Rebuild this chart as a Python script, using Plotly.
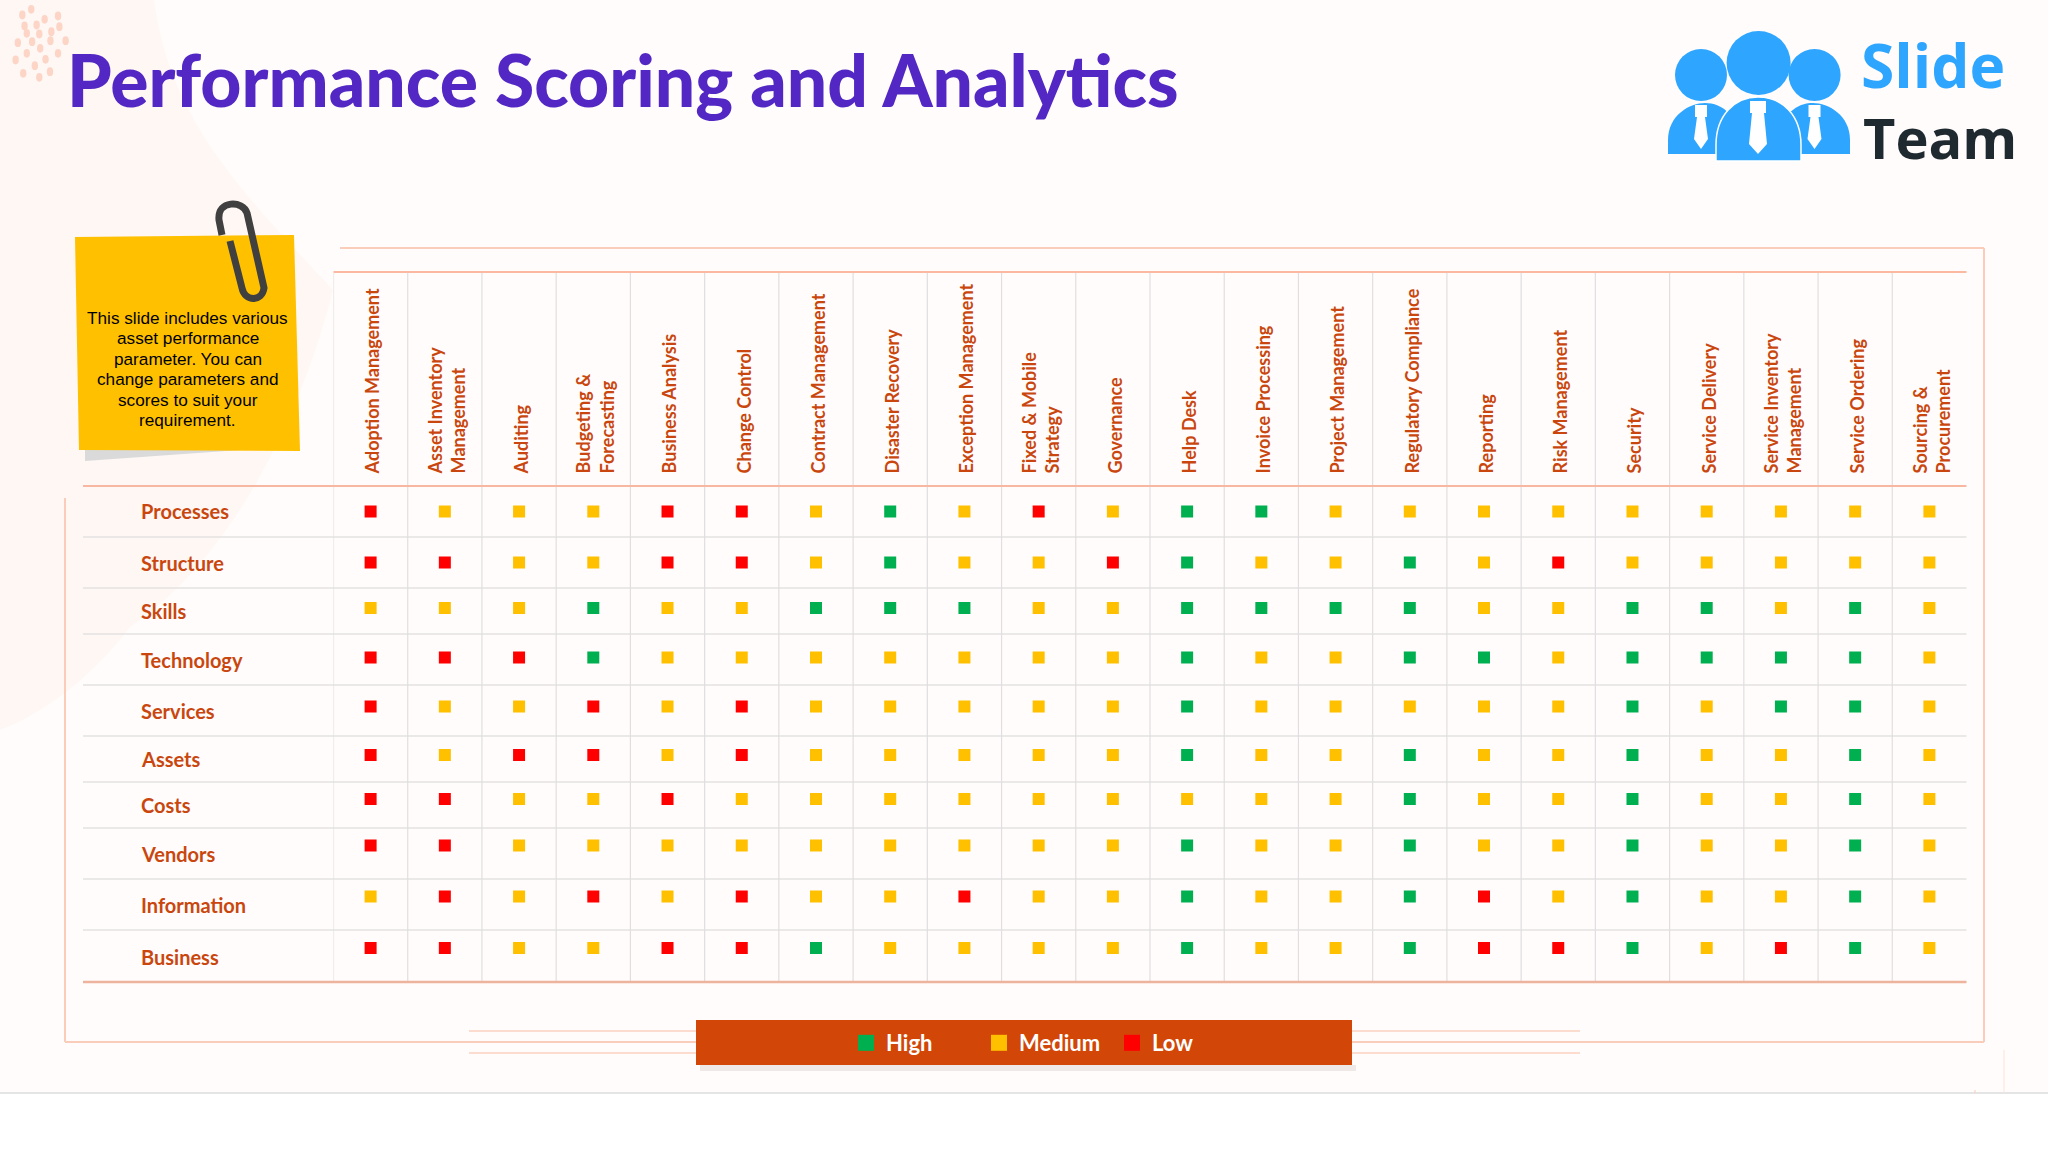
import re
import numpy as np
import plotly.graph_objects as go

# ---------- data ----------
COLUMNS = ["Adoption Management", "Asset Inventory<br>Management", "Auditing", "Budgeting &<br>Forecasting",
           "Business Analysis", "Change Control", "Contract Management", "Disaster Recovery",
           "Exception Management", "Fixed & Mobile<br>Strategy", "Governance", "Help Desk",
           "Invoice Processing", "Project Management", "Regulatory Compliance", "Reporting",
           "Risk Management", "Security", "Service Delivery", "Service Inventory<br>Management",
           "Service Ordering", "Sourcing &<br>Procurement"]
ROWS = ["Processes", "Structure", "Skills", "Technology", "Services",
        "Assets", "Costs", "Vendors", "Information", "Business"]
PROCESSES   = list("LMMMLLMHMLMHHMMMMMMMMM")
STRUCTURE   = list("LLMMLLMHMMLHMMHMLMMMMM")
SKILLS      = list("MMMHMMHHHMMHHHHMMHHMHM")
TECHNOLOGY  = list("LLLHMMMMMMMHMMHHMHHHHM")
SERVICES    = list("LMMLMLMMMMMHMMMMMHMHHM")
ASSETS      = list("LMLLMLMMMMMHMMHMMHMMHM")
COSTS       = list("LLMMLMMMMMMMMMHMMHMMHM")
VENDORS     = list("LLMMMMMMMMMHMMHMMHMMHM")
INFORMATION = list("MLMLMLMMLMMHMMHLMHMMHM")
BUSINESS    = list("LLMMLLHMMMMHMMHLLHMLHM")
SCORES = [PROCESSES, STRUCTURE, SKILLS, TECHNOLOGY, SERVICES, ASSETS, COSTS, VENDORS, INFORMATION, BUSINESS]
LEVELS = {"H": "High", "M": "Medium", "L": "Low"}

# ---------- table geometry (rows are not equal in height on the slide) ----------
ROW_HEIGHTS = [51, 51, 46, 51, 51, 46, 46, 51, 51, 52]
MARK_SHIFT = [0, 0, -3, -2, -4, -4, -6, -8, -8, -8]
LABEL_SHIFT = [-1, 0, -0.5, 0, 0, 0, 0, 0, 0, 0.5]
edges = np.concatenate([[0], np.cumsum(ROW_HEIGHTS)])
centres = (edges[:-1] + edges[1:]) / 2
mark_pos = centres + np.array(MARK_SHIFT)

W, H = 2048, 1152
TABLE_L, TABLE_R, TABLE_T, TABLE_B = 333.5, 1966.5, 486, 982
COLORS = {"H": "#00B050", "M": "#FFC000", "L": "#FF0000"}
ORANGE = "#C9470F"
X = lambda p: p / W
Y = lambda p: 1 - p / H


def P(s):
    """Turn a path written in slide pixels into paper coordinates."""
    out, i = [], 0
    for tok in s.split():
        if re.fullmatch(r"[A-Za-z]", tok):
            out.append(tok)
        else:
            v = float(tok)
            out.append(f"{X(v) if i % 2 == 0 else Y(v):.5f}")
            i += 1
    return " ".join(out)


def shape_path(s, fill="rgba(0,0,0,0)", line=None, width=0, layer="below"):
    return dict(type="path", path=P(s), xref="paper", yref="paper", fillcolor=fill,
                line=dict(color=line or "rgba(0,0,0,0)", width=width), layer=layer)


def rect(x0, y0, x1, y1, fill, layer="below"):
    return dict(type="rect", xref="paper", yref="paper", x0=X(x0), x1=X(x1), y0=Y(y0), y1=Y(y1),
                fillcolor=fill, line=dict(width=0), layer=layer)


def seg(x0, y0, x1, y1, color, width, layer="below"):
    return dict(type="line", xref="paper", yref="paper", x0=X(x0), x1=X(x1), y0=Y(y0), y1=Y(y1),
                line=dict(color=color, width=width), layer=layer)


def circ(cx, cy, rx, ry, fill, layer="below"):
    return dict(type="circle", xref="paper", yref="paper", x0=X(cx - rx), x1=X(cx + rx), y0=Y(cy + ry), y1=Y(cy - ry),
                fillcolor=fill, line=dict(width=0), layer=layer)


fig = go.Figure()

# score marks, one trace for each level
for code, name in LEVELS.items():
    xs, ys = [], []
    for r, row in enumerate(SCORES):
        for c, v in enumerate(row):
            if v == code:
                xs.append(COLUMNS[c])
                ys.append(mark_pos[r])
    fig.add_trace(go.Scatter(x=xs, y=ys, mode="markers", name=name, showlegend=False,
                             marker=dict(symbol="square", size=12, color=COLORS[code], line=dict(width=0)),
                             hovertemplate="%{x}: " + name + "<extra></extra>"))
# legend entries
for code, name in LEVELS.items():
    fig.add_trace(go.Scatter(x=[None], y=[None], mode="markers", name=name,
                             marker=dict(symbol="square", size=16, color=COLORS[code], line=dict(width=0))))

shapes = []
# background
shapes.append(rect(0, 0, W, 1093, "#FFFCFB"))
shapes.append(shape_path("M 0 0 L 154 0 C 170 120 240 190 333 290 C 300 420 230 560 130 627 C 90 680 40 715 0 730 Z", "#FEF7F4"))
for dx, dy in [(50, 45), (70, 28), (100, 58), (130, 48), (55, 78), (82, 75), (133, 80), (60, 100), (88, 102), (115, 95),
               (40, 128), (72, 125), (113, 122), (147, 122), (90, 145), (60, 160), (130, 160), (35, 180), (102, 178),
               (78, 197), (52, 220), (112, 215), (88, 232)]:
    shapes.append(circ(dx / 2.24, dy / 3, 3.2, 4.4, "#FDD5C6"))
shapes.append(seg(0, 1093, W, 1093, "#DCDCDC", 1.5))
shapes.append(seg(2004, 1050, 2004, 1093, "#FBE3D9", 1))
shapes.append(seg(1975, 1090, 1975, 1093, "#F8CDBB", 1))

# outer frame
FRAME = "#F9CDBA"
shapes += [seg(340, 248, 1984, 248, FRAME, 2), seg(1984, 248, 1984, 1042, FRAME, 2),
           seg(65, 1042, 1984, 1042, FRAME, 2), seg(65, 498, 65, 1042, FRAME, 2)]
for yy in (1031, 1053):
    shapes.append(seg(469, yy, 1580, yy, "#FBDCCE", 2))

# table rules
for e in edges[1:-1]:
    shapes.append(dict(type="line", xref="paper", yref="y", x0=X(83), x1=X(TABLE_R), y0=e, y1=e,
                       line=dict(color="#E4E2E2", width=1.5), layer="below"))
for i in range(len(COLUMNS)):
    shapes.append(dict(type="line", xref="x", yref="paper", x0=i - 0.5, x1=i - 0.5, y0=Y(273), y1=Y(TABLE_B),
                       line=dict(color="#E0DEE0", width=1.2), layer="below"))
shapes += [seg(TABLE_L, 272, TABLE_R, 272, "#FBB9A2", 2.2), seg(83, TABLE_T, TABLE_R, TABLE_T, "#F8B7A0", 2.2),
           seg(83, TABLE_B, TABLE_R, TABLE_B, "#EDB39C", 2.6)]

# sticky note
shapes.append(shape_path("M 85 450 L 240 450 L 85 461 Z", "#DADADA"))
shapes.append(shape_path("M 75 237 L 294 235 L 300 451 L 79 450 Z", "#FFC000"))
shapes.append(shape_path("M 230 241 L 242 288 C 245 302 262 302 264 288 L 247 213 C 243 200 217 200 219 220 L 222 235",
                         line="#404040", width=7))

# legend band
shapes.append(rect(700, 1065, 1356, 1071, "rgba(120,100,90,0.13)"))
shapes.append(rect(696, 1020, 1352, 1065, "#D24607"))

# logo
BLUE = "#2EA6FF"
shapes += [shape_path("M 1668 154 L 1668 140 C 1668 115 1690 103 1705 103 C 1722 103 1740 115 1745 154 Z", BLUE),
           shape_path("M 1850 154 L 1850 140 C 1850 115 1828 103 1813 103 C 1796 103 1778 115 1773 154 Z", BLUE),
           circ(1701, 75, 26, 26, BLUE), circ(1814.6, 75, 26, 26, BLUE),
           dict(type="path", path=P("M 1716 161 L 1716 145 C 1716 115 1735 97 1758 97 C 1782 97 1801 115 1801 145 L 1801 161 Z"),
                xref="paper", yref="paper", fillcolor=BLUE, line=dict(color="#FFFFFF", width=1.5), layer="below"),
           circ(1758.6, 63, 32, 32, BLUE)]
for tx, top, low, half in [(1701, 105, 149, 7), (1758, 101, 154, 9), (1814.5, 105, 149, 7)]:
    shapes.append(shape_path(f"M {tx-half+1} {top} L {tx+half-1} {top} L {tx+half-1} {top+12} L {tx+half-3} {top+12} "
                             f"L {tx+half} {low-10} L {tx} {low} L {tx-half} {low-10} L {tx-half+3} {top+12} L {tx-half+1} {top+12} Z",
                             "#FFFFFF"))

# ---------- text ----------
anns = []
def text(x, y, s, size, color, family="Lato", weight=700, anchor="left", yref="paper"):
    anns.append(dict(x=X(x), y=Y(y) if yref == "paper" else y, xref="paper", yref=yref, text=s, showarrow=False,
                     xanchor=anchor, yanchor="middle", font=dict(family=family, size=size, color=color, weight=weight)))

text(65, 80, "Performance Scoring and Analytics", 71.4, "#5327C4", weight=900)
text(1859, 64, "Slide", 60.5, BLUE, family="Open Sans")
text(1861, 137, "Team", 56, "#1F2A30", family="Open Sans")
NOTE_LINES = ["This slide includes various", "asset performance", "parameter. You can",
              "change parameters and", "scores to suit your", "requirement."]
for ln, yy in zip(NOTE_LINES, [318, 338, 359, 379, 400, 420]):
    text(187.5, yy, ln, 17.2, "#000000", family="Liberation Sans", weight=400, anchor="center")
for name, c, s in zip(ROWS, centres, LABEL_SHIFT):
    text(138.5, c + s, name, 20, ORANGE, yref="y")

fig.update_layout(
    width=W, height=H, margin=dict(l=0, r=0, t=0, b=0), autosize=False,
    paper_bgcolor="#FFFFFF", plot_bgcolor="rgba(0,0,0,0)", hovermode="closest",
    shapes=shapes, annotations=anns,
    xaxis=dict(type="category", categoryorder="array", categoryarray=COLUMNS, tickmode="array", tickvals=COLUMNS,
               domain=[X(TABLE_L), X(TABLE_R)], range=[-0.5, len(COLUMNS) - 0.5], side="top", anchor="y",
               tickangle=-90, ticks="outside", ticklen=8, tickcolor="rgba(0,0,0,0)", showgrid=False, zeroline=False,
               showline=False, automargin=False, ticklabelshift=3,
               tickfont=dict(family="Lato", size=18, color=ORANGE, weight=700)),
    yaxis=dict(domain=[Y(TABLE_B), Y(TABLE_T)], range=[float(edges[-1]), 0], showgrid=False, zeroline=False,
               showticklabels=False, ticks="", showline=False, automargin=False),
    showlegend=True,
    legend=dict(orientation="h", x=X(846), xanchor="left", y=Y(1043), yanchor="middle", bgcolor="rgba(0,0,0,0)",
                borderwidth=0, entrywidth=88, entrywidthmode="pixels", traceorder="normal",
                font=dict(family="Lato", size=22, color="#FFFFFF", weight=700)),
)
fig.write_html("out.html", config={"displayModeBar": False},
               post_script="document.body.style.margin='0';document.body.style.overflow='hidden';")
